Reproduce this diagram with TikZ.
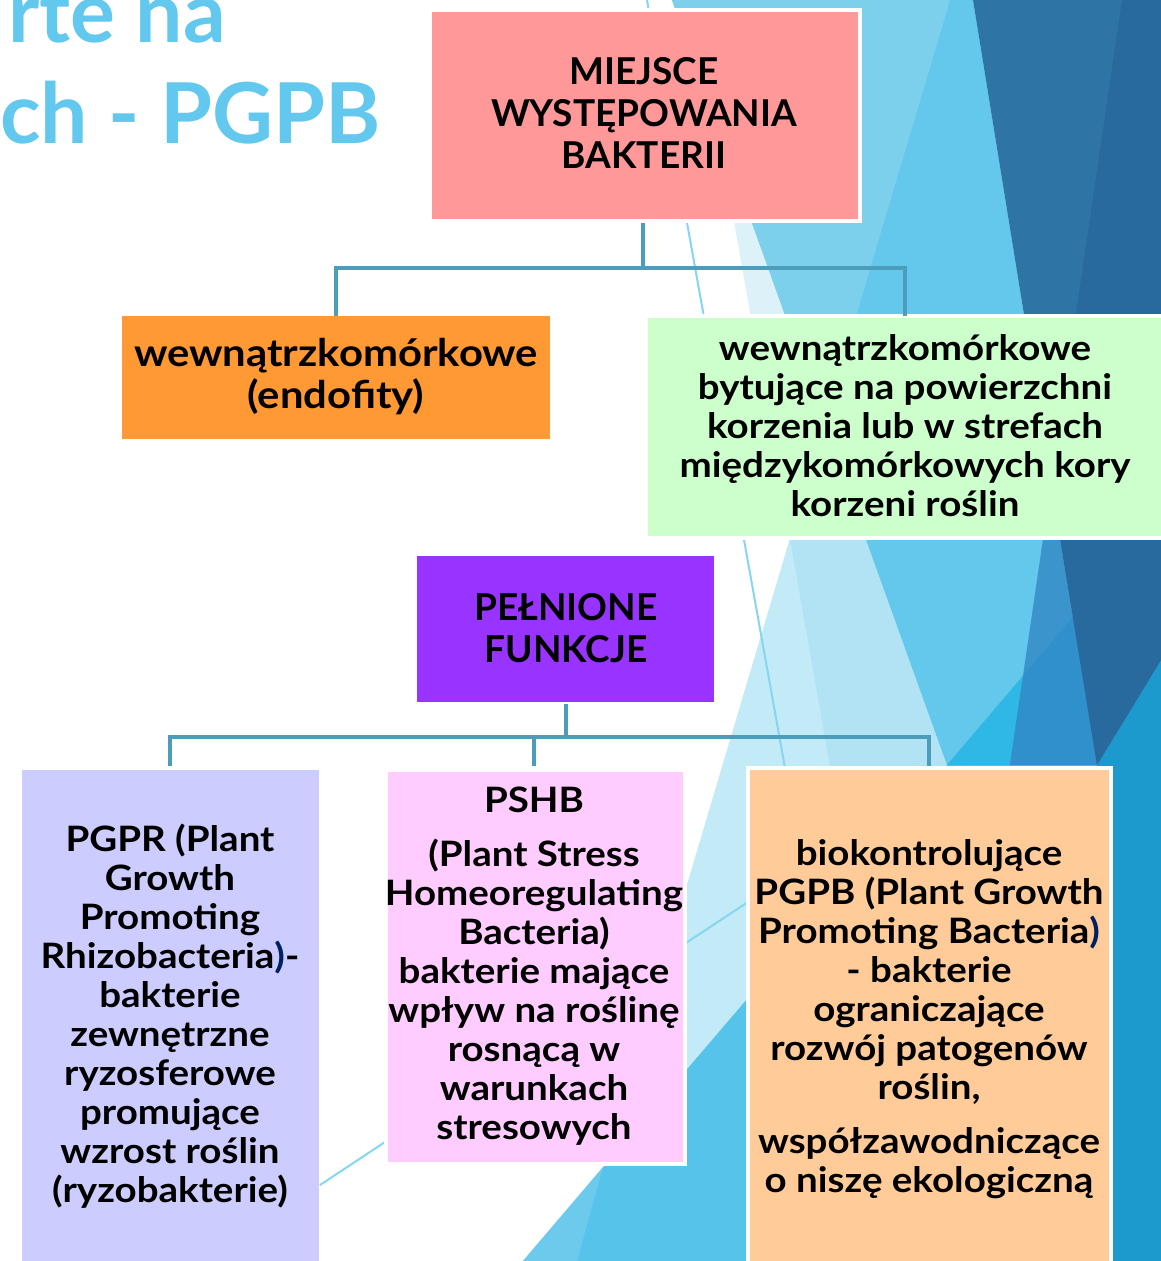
\documentclass[tikz,border=0pt]{standalone}
\usepackage{fontspec}
\setmainfont{Lato}
\newfontfamily\boxfont{Lato}[FakeStretch=1.1]
\definecolor{cVL}{HTML}{DDF1F9}
\definecolor{cVT}{HTML}{C3EAF7}
\definecolor{cVX}{HTML}{B1E3F4}
\definecolor{cMed}{HTML}{63C8EC}
\definecolor{cLight}{HTML}{7DD0EC}
\definecolor{cDark}{HTML}{2E74A5}
\definecolor{cDarkS}{HTML}{296A9E}
\definecolor{cStrM}{HTML}{3C94CD}
\definecolor{cStrB}{HTML}{2F90CB}
\definecolor{cBright}{HTML}{2FB8E5}
\definecolor{cT}{HTML}{55C3EA}
\definecolor{cTl}{HTML}{6CCBEC}
\definecolor{cRB}{HTML}{1D9ACD}
\definecolor{cThin}{HTML}{86D5F1}
\definecolor{cTitle}{HTML}{63C8EE}
\definecolor{cConn}{HTML}{4B9DB9}
\definecolor{cNavy}{HTML}{002060}
\definecolor{bPink}{HTML}{FF9999}
\definecolor{bOrange}{HTML}{FF9933}
\definecolor{bGreen}{HTML}{CCFFCC}
\definecolor{bPurple}{HTML}{9933FF}
\definecolor{bLav}{HTML}{CCCCFF}
\definecolor{bPink2}{HTML}{FFCCFF}
\definecolor{bPeach}{HTML}{FFCC99}
\tikzset{
  boxstyle/.style={draw=white, line width=3.5pt},
  conn/.style={draw=cConn, line width=4.5pt},
  thinline/.style={draw=cThin, line width=2pt},
  bigtxt/.style={align=center, inner sep=0pt, text=black, font=\boxfont\bfseries\fontsize{38}{42}\selectfont},
  capstxt/.style={align=center, inner sep=0pt, text=black, font=\bfseries\fontsize{37}{42}\selectfont},
  smalltxt/.style={align=center, inner sep=0pt, text=black, font=\boxfont\bfseries\fontsize{35}{39}\selectfont},
  titletxt/.style={inner sep=0pt, text=cTitle, font=\bfseries\fontsize{84}{100}\selectfont}
}
\begin{document}
\begin{tikzpicture}[x=1pt,y=-1pt]
\useasboundingbox (0,0) rectangle (1161,1261);
\fill[white] (0,0) rectangle (1161,1261);
% background facets
\fill[cVL] (695,0) -- (1161,0) -- (1161,1261) -- (917,1261) -- cycle;
\fill[cVT] (950,0) -- (1161,0) -- (1161,1261) -- (575,1261) -- cycle;
\fill[cVX] (950,0) -- (1161,0) -- (1161,1261) -- (917,1261) -- (790,539) -- cycle;
\fill[cMed] (672,0) -- (973,0) -- (1097,765) -- (947,765) -- cycle;
\fill[cLight] (672,0) -- (950,0) -- (824,424) -- cycle;
\fill[cT] (523,1261) -- (1161,515) -- (1161,1261) -- cycle;
\fill[cTl] (523,1261) -- (603,1167) -- (577,1261) -- cycle;
\fill[cBright] (947,765) -- (1073,617) -- (1097,765) -- cycle;
\fill[cStrM] (1051,484) -- (1097,765) -- (1010,765) -- cycle;
\fill[cStrB] (1023,676) -- (1073,617) -- (1097,765) -- (1010,765) -- cycle;
\fill[cRB] (1097,765) -- (1161,660) -- (1161,1261) -- (1100,1261) -- cycle;
\fill[cDark] (973,0) -- (1161,0) -- (1161,660) -- (1097,765) -- cycle;
\fill[cDarkS] (1122,0) -- (1161,0) -- (1161,660) -- (1097,765) -- (1051,484) -- cycle;
\draw[thinline] (647,0) -- (785,768);
\draw[thinline] (320,1185) -- (760,894);
% title fragments
\node[titletxt, anchor=base east] (title1) at (226,42) {rte na};
\node[titletxt, anchor=base east] (title2) at (381,143) {ch - PGPB};
% boxes
\path[boxstyle, fill=bPink] (430,10) rectangle (860,221);
\node[inner sep=0pt, minimum width=430pt, minimum height=211pt] (miejsce) at (645,115.5) {};
\path[boxstyle, fill=bOrange, draw=none] (122,316) rectangle (550,439);
\node[inner sep=0pt, minimum width=428pt, minimum height=123pt] (endo) at (336,377.5) {};
\path[boxstyle, fill=bGreen] (646,316) rectangle (1175,538);
\node[inner sep=0pt, minimum width=516pt, minimum height=222pt] (powierz) at (904,427) {};
\path[boxstyle, fill=bPurple, draw=none] (417,556) rectangle (714,702);
\node[inner sep=0pt, minimum width=297pt, minimum height=146pt] (funkcje) at (565.5,629) {};
\path[fill=bLav] (22,770) rectangle (319,1275);
\node[inner sep=0pt, minimum width=297pt, minimum height=10pt, anchor=north] (pgpr) at (170.5,770) {};
\path[boxstyle, fill=bPink2] (386,770) rectangle (685,1164);
\node[inner sep=0pt, minimum width=299pt, minimum height=10pt, anchor=north] (pshb) at (534.5,770) {};
\path[boxstyle, fill=bPeach] (748,768) rectangle (1111,1280);
\node[inner sep=0pt, minimum width=363pt, minimum height=10pt, anchor=north] (pgpb) at (929.5,768) {};
% connectors
\coordinate (j1) at (643,268);
\coordinate (j2) at (566,737);
\draw[conn] (643,223) coordinate (m1) -- (j1);
\draw[conn] (j1) -| (336,316) coordinate (e1);
\draw[conn] (j1) -| (905,316) coordinate (g1);
\draw[conn] (566,704) coordinate (f1) -- (j2);
\draw[conn] (j2) -| (170,766) coordinate (l1);
\draw[conn] (j2) -| (534,766) coordinate (p1);
\draw[conn] (j2) -| (929,766) coordinate (q1);
% texts
\node[capstxt] (t1) at (644,113) {MIEJSCE\\WYSTĘPOWANIA\\BAKTERII};
\node[bigtxt] (t2) at (336,377) {wewnątrzkomórkowe\\(endofity)};
\node[smalltxt] (t3) at (905,426) {wewnątrzkomórkowe\\bytujące na powierzchni\\korzenia lub w strefach\\międzykomórkowych kory\\korzeni roślin};
\node[capstxt] (t4) at (566,628) {PEŁNIONE\\FUNKCJE};
\node[smalltxt] (t5) at (170,1016) {PGPR (Plant\\Growth\\Promoting\\Rhizobacteria{\color{cNavy})}-\\bakterie\\zewnętrzne\\ryzosferowe\\promujące\\wzrost roślin\\(ryzobakterie)};
\node[smalltxt] (t6) at (534,966) {PSHB\\[15pt](Plant Stress\\Homeoregulating\\Bacteria)\\bakterie mające\\wpływ na roślinę\\rosnącą w\\warunkach\\stresowych};
\node[smalltxt] (t7) at (929,1019) {biokontrolujące\\PGPB (Plant Growth\\Promoting Bacteria{\color{cNavy})}\\- bakterie\\ograniczające\\rozwój patogenów\\roślin,\\[15pt]współzawodniczące\\o niszę ekologiczną};
\end{tikzpicture}
\end{document}
